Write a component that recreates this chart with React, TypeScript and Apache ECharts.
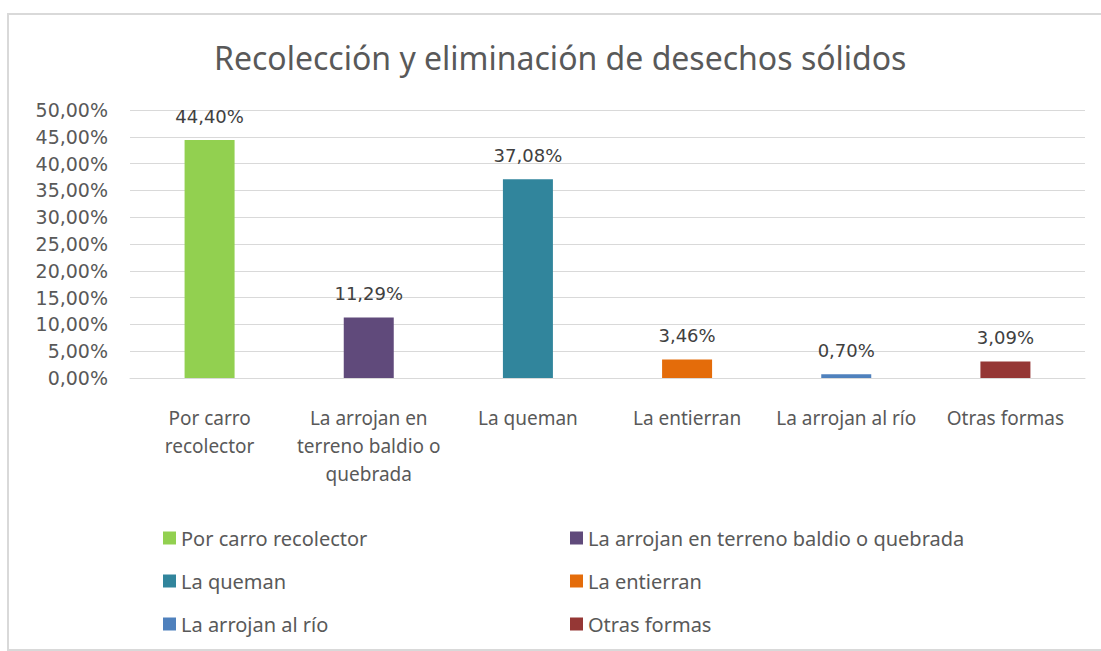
import React, { useEffect, useRef } from "react";
import * as echarts from "echarts";

const categories = [
  "Por carro recolector",
  "La arrojan en terreno baldio o quebrada",
  "La queman",
  "La entierran",
  "La arrojan al río",
  "Otras formas",
];
const axisLabels = [
  "Por carro\nrecolector",
  "La arrojan en\nterreno baldio o\nquebrada",
  "La queman",
  "La entierran",
  "La arrojan al río",
  "Otras formas",
];
const values = [44.4, 11.29, 37.08, 3.46, 0.7, 3.09];
const colors = ["#92d050", "#604a7b", "#31859c", "#e46c0a", "#4f81bd", "#953735"];
const yTicks = { min: 0, max: 50, interval: 5 };

const fmt = (v: number) => v.toFixed(2).replace(".", ",") + "%";

const legendPos = [
  { left: 158, top: 523 },
  { left: 565, top: 523 },
  { left: 158, top: 566 },
  { left: 565, top: 566 },
  { left: 158, top: 609 },
  { left: 565, top: 609 },
];

export default function App() {
  const ref = useRef<HTMLDivElement>(null);
  useEffect(() => {
    document.body.style.margin = "0";
    const chart = echarts.init(ref.current!, null, { renderer: "svg" });
    const font = "'Noto Sans', sans-serif";
    const numFont = "'DejaVu Sans', sans-serif";
    chart.setOption({
      animation: false,
      backgroundColor: "#ffffff",
      title: {
        text: "Recolección y eliminación de desechos sólidos",
        left: 209,
        top: 36,
        textStyle: { fontFamily: font, fontSize: 32, fontWeight: "normal", color: "#595959" },
      },
      graphic: [
        {
          type: "rect",
          shape: { x: 8, y: 14, width: 1110, height: 636 },
          style: { fill: "none", stroke: "#d9d9d9", lineWidth: 2 },
          silent: true,
        },
      ],
      legend: categories.map((c, i) => ({
        data: [c],
        left: legendPos[i].left,
        top: legendPos[i].top,
        itemWidth: 13,
        itemHeight: 13,
        itemGap: 8,
        icon: "rect",
        textStyle: { fontFamily: font, fontSize: 20, color: "#595959" },
        selectedMode: false,
      })),
      grid: { left: 130, right: 16, top: 110, bottom: 273 },
      xAxis: {
        type: "category",
        data: categories,
        axisTick: { show: false },
        axisLine: { lineStyle: { color: "#d9d9d9", width: 1 } },
        axisLabel: {
          interval: 0,
          margin: 26,
          fontFamily: font,
          fontSize: 19,
          lineHeight: 28,
          color: "#595959",
          formatter: (_v: string, idx: number) => axisLabels[idx],
        },
      },
      yAxis: {
        type: "value",
        min: yTicks.min,
        max: yTicks.max,
        interval: yTicks.interval,
        axisLine: { show: false },
        axisTick: { show: false },
        splitLine: { lineStyle: { color: "#d9d9d9", width: 1 } },
        axisLabel: {
          fontFamily: numFont,
          fontSize: 19,
          color: "#595959",
          margin: 22,
          formatter: (v: number) => fmt(v),
        },
      },
      series: categories.map((c, i) => ({
        name: c,
        type: "bar",
        barWidth: 50,
        barGap: "-100%",
        itemStyle: { color: colors[i] },
        data: categories.map((_, j) => (j === i ? values[i] : "-")),
        label: {
          show: true,
          position: "top",
          distance: 15,
          fontFamily: numFont,
          fontSize: 18,
          color: "#404040",
          formatter: (p: any) => fmt(p.value),
        },
      })),
    });
    return () => chart.dispose();
  }, []);
  return <div ref={ref} style={{ width: 1101, height: 651 }} />;
}
